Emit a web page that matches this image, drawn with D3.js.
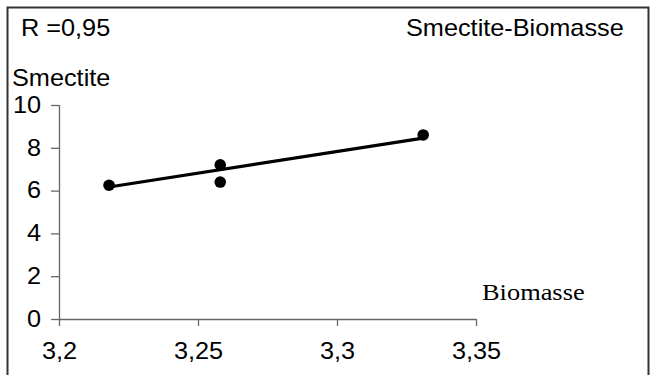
<!DOCTYPE html>
<html>
<head>
<meta charset="utf-8">
<script src="https://cdn.jsdelivr.net/npm/d3@7"></script>
<style>
  body { margin: 0; background: #fff; }
  svg text { font-family: "Liberation Sans", Arial, sans-serif; fill: #000; }
</style>
</head>
<body>
<svg id="chart_smectite" width="652" height="375"></svg>
<script>
// values
let biomasse = [3.218, 3.258, 3.258, 3.331];
let smectite = [6.25, 7.2, 6.4, 8.6];
let trend_x = [3.218, 3.331];
let trend_y = [6.17, 8.45];
let x_ticks = [3.2, 3.25, 3.3, 3.35];
let x_labels = ["3,2", "3,25", "3,3", "3,35"];
let y_ticks = [0, 2, 4, 6, 8, 10];
let title = "Smectite-Biomasse";
let r_label = "R =0,95";

const svg = d3.select("svg#chart_smectite");
const stretch = 1.1;

// frame
svg.append("rect")
  .attr("x", 7.5).attr("y", 7.5)
  .attr("width", 641).attr("height", 380)
  .attr("fill", "none").attr("stroke", "#333").attr("stroke-width", 2);

let scale_x = d3.scaleLinear().domain([3.2, 3.35]).range([59, 476]);
let scale_y = d3.scaleLinear().domain([0, 10]).range([319, 105]);

let g_xaxis = svg.append("g").attr("transform", "translate(0,319)");
g_xaxis.call(d3.axisBottom(scale_x).tickValues(x_ticks).tickSize(7).tickPadding(17)
  .tickFormat((d, i) => x_labels[i]));

let g_yaxis = svg.append("g").attr("transform", "translate(59,0)");
g_yaxis.call(d3.axisLeft(scale_y).tickValues(y_ticks).tickSize(8).tickPadding(10)
  .tickFormat(d3.format("d")));

svg.selectAll(".domain, .tick line").attr("stroke", "#666").attr("stroke-width", 1.3);
svg.selectAll(".domain").attr("d", function () {
  return d3.select(this.parentNode).attr("transform") == "translate(0,319)"
    ? "M59,0.5H476" : "M0.5,105V319";
});
svg.selectAll(".tick text")
  .attr("font-size", 23)
  .attr("font-family", "Liberation Sans, Arial, sans-serif")
  .attr("fill", "#000");
g_xaxis.selectAll(".tick text").attr("transform", `scale(${stretch},1)`);
g_yaxis.selectAll(".tick text").attr("transform", `scale(${stretch},1)`).attr("x", -18 / stretch);

let put_text = (txt, x, y, size, family) => {
  svg.append("text")
    .attr("transform", `translate(${x},${y}) scale(${stretch},1)`)
    .attr("font-size", size)
    .style("font-family", family || "Liberation Sans, Arial, sans-serif")
    .text(txt);
};

put_text(r_label, 21, 36, 23);
put_text(title, 406, 36, 23);
put_text("Smectite", 12, 86, 23);
put_text("Biomasse", 482, 300, 24, "Liberation Serif, Times New Roman, serif");

// regression line
let line = d3.line().x((d) => scale_x(d[0])).y((d) => scale_y(d[1]));
svg.append("path")
  .attr("d", line(d3.zip(trend_x, trend_y)))
  .attr("fill", "none")
  .attr("stroke", "#000")
  .attr("stroke-width", 3.2);

let g_data = svg.append("g");
g_data.selectAll("circle.datapoint")
  .data(d3.zip(biomasse, smectite))
  .enter()
  .append("circle")
  .attr("class", "datapoint")
  .attr("r", 5.8)
  .attr("cx", (d) => scale_x(d[0]))
  .attr("cy", (d) => scale_y(d[1]))
  .attr("fill", "#000");
</script>
</body>
</html>
